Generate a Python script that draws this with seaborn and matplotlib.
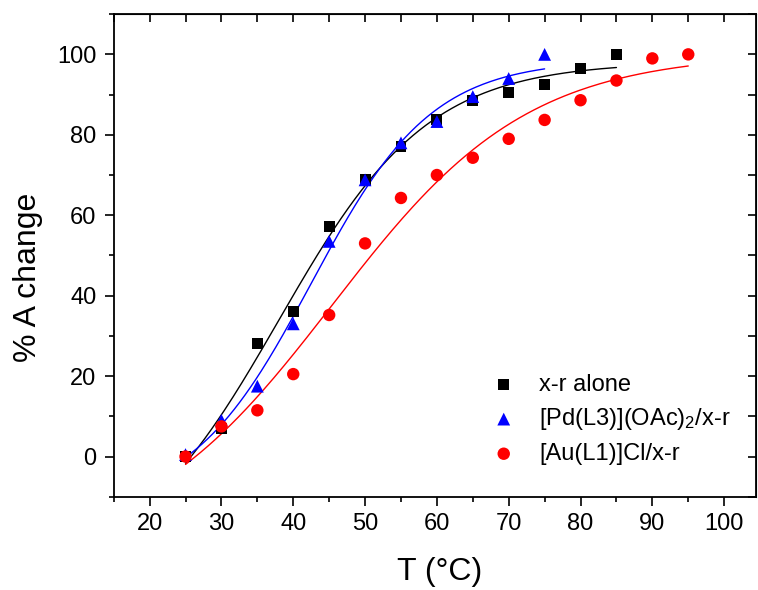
import numpy as np
import pandas as pd
import matplotlib
matplotlib.use("Agg")
import matplotlib.pyplot as plt
from matplotlib.ticker import MultipleLocator
import seaborn as sns

# ---- data ----
t_xr = [25, 30, 35, 40, 45, 50, 55, 60, 65, 70, 75, 80, 85]
a_xr = [0, 7, 28, 36, 57.3, 69, 77, 83.7, 88.5, 90.5, 92.5, 96.5, 100]

t_pd = [25, 30, 35, 40, 45, 50, 55, 60, 65, 70, 75]
a_pd = [0.5, 9, 17.5, 33, 53.5, 68.8, 78, 83.3, 89.5, 94, 100]

t_au = [25, 30, 35, 40, 45, 50, 55, 60, 65, 70, 75, 80, 85, 90, 95]
a_au = [0, 7.5, 11.5, 20.5, 35.2, 53, 64.3, 70, 74.3, 79, 83.7, 88.6, 93.5, 99, 100]

labels = ["x-r alone", "[Pd(L3)](OAc)$_2$/x-r", "[Au(L1)]Cl/x-r"]
colors = ["black", "#0000FF", "#FF0000"]
markers = ["s", "^", "o"]
msizes = [62, 85, 80]

x_ticks = [20, 30, 40, 50, 60, 70, 80, 90, 100]
y_ticks = [0, 20, 40, 60, 80, 100]


def boltzmann_fit(x, y):
    """Least-squares Boltzmann sigmoid fit: grid over x0, dx; A1, A2 solved linearly."""
    x = np.asarray(x, float)
    y = np.asarray(y, float)
    best = None
    for x0 in np.linspace(20, 80, 241):
        for dx in np.linspace(2, 30, 141):
            f = 1.0 / (1.0 + np.exp((x - x0) / dx))
            M = np.column_stack([f, 1 - f])
            coef, *_ = np.linalg.lstsq(M, y, rcond=None)
            r = np.sum((M @ coef - y) ** 2)
            if best is None or r < best[0]:
                best = (r, x0, dx, coef)
    _, x0, dx, (a1, a2) = best
    xs = np.linspace(x.min(), x.max(), 200)
    f = 1.0 / (1.0 + np.exp((xs - x0) / dx))
    return xs, a1 * f + a2 * (1 - f)


sns.set_style("ticks")
plt.rcParams["font.family"] = ["Liberation Sans", "DejaVu Sans"]
plt.rcParams["mathtext.default"] = "regular"
for k in ["text.color", "axes.labelcolor", "xtick.color", "ytick.color", "axes.edgecolor"]:
    plt.rcParams[k] = "black"

fig = plt.figure(figsize=(7.58, 5.90), dpi=100)
ax = fig.add_axes([0.150, 0.158, 0.848, 0.818])

series = [(t_xr, a_xr), (t_pd, a_pd), (t_au, a_au)]
for (tx, ay), lab, c, m, s in zip(series, labels, colors, markers, msizes):
    df = pd.DataFrame({"T": tx, "A": ay})
    xs, ys = boltzmann_fit(tx, ay)
    sns.lineplot(x=xs, y=ys, ax=ax, color=c, linewidth=1.0, legend=False)
    sns.scatterplot(data=df, x="T", y="A", ax=ax, color=c, marker=m, s=s,
                    edgecolor="none", label=lab, zorder=3)

ax.set_xlim(15, 104.5)
ax.set_ylim(-10, 110)
ax.set_xticks(x_ticks)
ax.set_yticks(y_ticks)
ax.xaxis.set_minor_locator(MultipleLocator(5))
ax.yaxis.set_minor_locator(MultipleLocator(10))
ax.tick_params(which="major", direction="out", length=6.5, width=1.2, labelsize=17)
ax.tick_params(axis="y", which="major", pad=6)
ax.tick_params(axis="x", which="major", pad=5)
ax.tick_params(which="minor", direction="out", length=3.5, width=1.2)
for sp in ax.spines.values():
    sp.set_linewidth(1.3)
    sp.set_visible(True)

top = ax.secondary_xaxis("top")
top.set_xticks(x_ticks)
top.xaxis.set_minor_locator(MultipleLocator(5))
top.tick_params(which="both", direction="in", length=6, width=1.2, labeltop=False)
right = ax.secondary_yaxis("right")
right.set_yticks(y_ticks)
right.yaxis.set_minor_locator(MultipleLocator(10))
right.tick_params(which="both", direction="in", length=6, width=1.2, labelright=False)

ax.set_xlabel("T (°C)", fontsize=23)
ax.set_ylabel("% A change", fontsize=23)
ax.xaxis.set_label_coords(0.507, -0.125)
ax.yaxis.set_label_coords(-0.110, 0.455)

ax.legend(loc="lower left", bbox_to_anchor=(0.537, 0.022), frameon=False,
          fontsize=17, handletextpad=0.5, labelspacing=0.45, markerscale=1.0)

fig.savefig("out.png", dpi=100)
